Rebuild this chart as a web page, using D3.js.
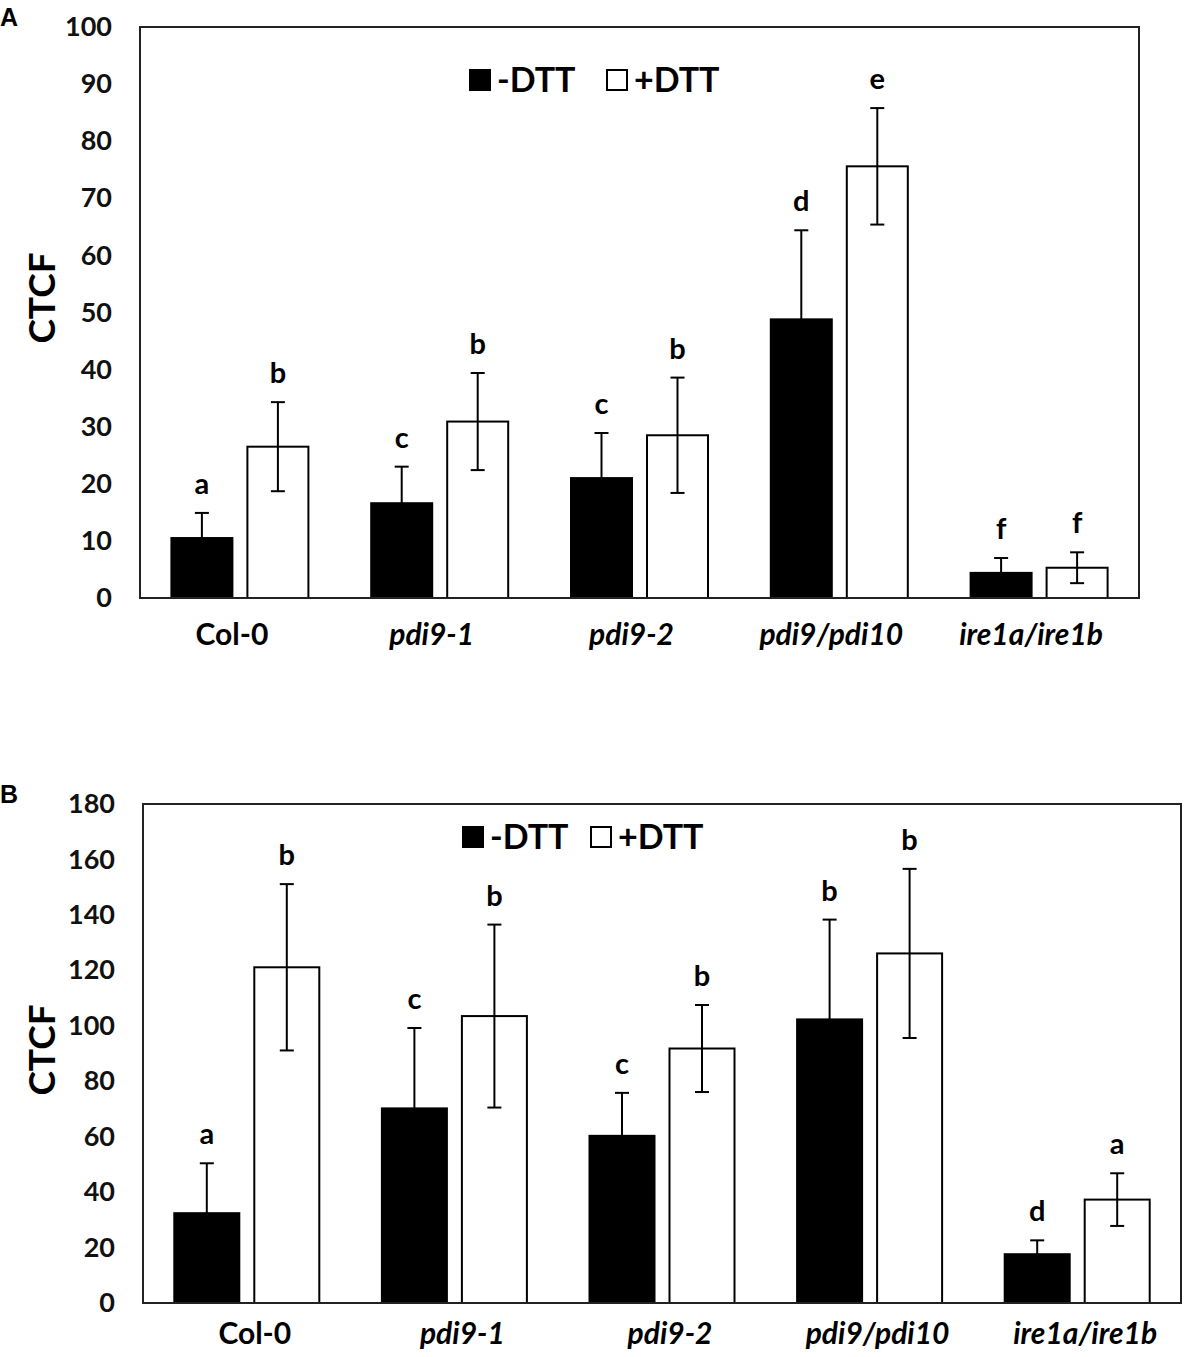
<!DOCTYPE html>
<html>
<head>
<meta charset="utf-8">
<script src="https://cdnjs.cloudflare.com/ajax/libs/d3/7.8.5/d3.min.js"></script>
<style>
  body { margin: 0; background: #fff; }
  svg { display: block; }
</style>
</head>
<body>
<div id="chart"></div>
<script>
// genotypes on the x axis
const genotypes = ["Col-0", "pdi9-1", "pdi9-2", "pdi9/pdi10", "ire1a/ire1b"];
const seriesNames = ["-DTT", "+DTT"];

// panel A
const minusA = [10.5, 16.6, 21.0, 48.8, 4.4];
const minusAErr = [4.4, 6.4, 7.9, 15.6, 2.6];
const plusA = [26.5, 30.9, 28.5, 75.6, 5.3];
const plusAErr = [7.8, 8.5, 10.1, 10.2, 2.7];
const minusALetters = ["a", "c", "c", "d", "f"];
const plusALetters = ["b", "b", "b", "e", "f"];
const ticksA = [0, 10, 20, 30, 40, 50, 60, 70, 80, 90, 100];

// panel B
const minusB = [32.4, 70.2, 60.3, 102.3, 17.6];
const minusBErr = [18, 29, 15.5, 36, 5];
const plusB = [121.1, 103.5, 91.8, 126.1, 37.3];
const plusBErr = [30, 33, 15.7, 30.5, 9.5];
const minusBLetters = ["a", "c", "c", "b", "d"];
const plusBLetters = ["b", "b", "b", "b", "a"];
const ticksB = [0, 20, 40, 60, 80, 100, 120, 140, 160, 180];

const font = "Lato, 'Open Sans', sans-serif";

const svg = d3.select("#chart").append("svg")
    .attr("width", 1188)
    .attr("height", 1357);

function drawPanel(p) {
    const x = d3.scaleBand().domain(genotypes).range([p.left, p.right]).padding(0);
    const y = d3.scaleLinear().domain([0, d3.max(p.ticks)]).range([p.bottom, p.top]);

    const g = svg.append("g");

    // panel letter
    g.append("text")
        .attr("x", 0)
        .attr("y", p.top - 1)
        .attr("font-family", "'Liberation Sans', Arial, sans-serif")
        .attr("font-weight", "bold")
        .attr("font-size", "25px")
        .text(p.name);

    // y tick labels
    g.append("g")
        .attr("transform", `translate(${p.left}, 0)`)
        .call(d3.axisLeft(y).tickValues(p.ticks).tickSize(0).tickPadding(p.tickPad))
        .call(a => a.select(".domain").remove())
        .selectAll("text")
        .attr("font-family", font)
        .attr("font-weight", "bold")
        .attr("font-size", "27px")
        .attr("fill", "#111");

    g.append("text")
        .attr("transform", `translate(${p.labelX}, ${p.labelY}) rotate(-90)`)
        .attr("text-anchor", "middle")
        .attr("dy", "0.35em")
        .attr("font-family", font)
        .attr("font-weight", "bold")
        .attr("font-size", "37px")
        .text("CTCF");

    const rows = genotypes.map((gname, i) => ([
        {g: gname, v: p.minus[i], e: p.minusErr[i], l: p.minusLetters[i], s: 0},
        {g: gname, v: p.plus[i], e: p.plusErr[i], l: p.plusLetters[i], s: 1}
    ])).flat();

    const cx = d => x(d.g) + x.bandwidth() / 2 + (d.s === 0 ? -p.offset : p.offset);

    g.selectAll(".bar")
        .data(rows)
        .join("rect")
        .attr("class", "bar")
        .attr("x", d => cx(d) - p.barW / 2)
        .attr("y", d => y(d.v))
        .attr("width", p.barW)
        .attr("height", d => y(0) - y(d.v))
        .attr("fill", d => d.s === 0 ? "#000" : "#fff")
        .attr("stroke", "#000")
        .attr("stroke-width", 2);

    // error bars
    const err = g.selectAll(".err")
        .data(rows)
        .join("g")
        .attr("class", "err")
        .attr("stroke", "#000")
        .attr("stroke-width", 2);
    err.append("line")
        .attr("x1", cx).attr("x2", cx)
        .attr("y1", d => y(d.v + d.e)).attr("y2", d => y(d.v - d.e));
    err.append("line")
        .attr("x1", d => cx(d) - 7).attr("x2", d => cx(d) + 7)
        .attr("y1", d => y(d.v + d.e)).attr("y2", d => y(d.v + d.e));
    err.append("line")
        .attr("x1", d => cx(d) - 7).attr("x2", d => cx(d) + 7)
        .attr("y1", d => y(d.v - d.e)).attr("y2", d => y(d.v - d.e));

    g.selectAll(".sig")
        .data(rows)
        .join("text")
        .attr("class", "sig")
        .attr("x", cx)
        .attr("y", d => y(d.v + d.e) - 19)
        .attr("text-anchor", "middle")
        .attr("font-family", font)
        .attr("font-weight", "bold")
        .attr("font-size", "29px")
        .text(d => d.l);

    // frame
    g.append("rect")
        .attr("x", p.left)
        .attr("y", p.top)
        .attr("width", p.right - p.left)
        .attr("height", p.bottom - p.top)
        .attr("fill", "none")
        .attr("stroke", "#222")
        .attr("stroke-width", 2);

    // genotype labels
    g.selectAll(".cat")
        .data(genotypes)
        .join("text")
        .attr("class", "cat")
        .attr("x", d => x(d) + x.bandwidth() / 2 + p.catDx)
        .attr("y", p.bottom + p.catDy)
        .attr("text-anchor", "middle")
        .attr("font-family", font)
        .attr("font-weight", "bold")
        .attr("font-style", d => d === "Col-0" ? "normal" : "italic")
        .attr("font-size", "30px")
        .text(d => d);

    // legend
    const lg = g.append("g")
        .attr("transform", `translate(${p.legX}, ${p.legY})`);
    const items = lg.selectAll("g")
        .data(seriesNames)
        .join("g")
        .attr("transform", (d, i) => `translate(${i * p.legStep}, 0)`);
    items.append("rect")
        .attr("x", 1)
        .attr("y", -22)
        .attr("width", 20)
        .attr("height", 20)
        .attr("fill", (d, i) => i === 0 ? "#000" : "#fff")
        .attr("stroke", "#000")
        .attr("stroke-width", 2);
    items.append("text")
        .attr("x", 28)
        .attr("y", 0)
        .attr("font-family", font)
        .attr("font-weight", "bold")
        .attr("font-size", "34px")
        .text(d => d);
}

drawPanel({
    name: "A", left: 140, right: 1139, top: 27, bottom: 598,
    ticks: ticksA, minus: minusA, minusErr: minusAErr, plus: plusA, plusErr: plusAErr,
    minusLetters: minusALetters, plusLetters: plusALetters,
    barW: 61, offset: 38, tickPad: 28, labelX: 42, labelY: 298, catDx: -8, catDy: 47,
    legX: 469, legY: 92, legStep: 137
});

drawPanel({
    name: "B", left: 143, right: 1181, top: 804, bottom: 1303,
    ticks: ticksB, minus: minusB, minusErr: minusBErr, plus: plusB, plusErr: plusBErr,
    minusLetters: minusBLetters, plusLetters: plusBLetters,
    barW: 65, offset: 40, tickPad: 28, labelX: 42, labelY: 1050, catDx: 8, catDy: 41,
    legX: 462, legY: 849, legStep: 128
});
</script>
</body>
</html>
